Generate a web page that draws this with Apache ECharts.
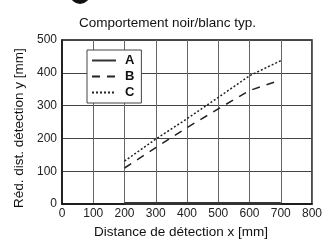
<!DOCTYPE html>
<html>
<head>
<meta charset="utf-8">
<script src="https://cdn.jsdelivr.net/npm/echarts@6/dist/echarts.min.js"></script>
<style>
html,body{margin:0;padding:0;background:#fff;}
#chart{width:335px;height:244px;}
</style>
</head>
<body>
<div id="chart"></div>
<script>
var distX = [200, 300, 400, 500, 600, 700];
var serieA = [2, 2, 2, 2, 2, 2];
var serieB = [110, 172, 233, 290, 346, 378];
var serieC = [131, 198, 260, 325, 391, 437];

function pts(vals) {
  return distX.map(function (x, i) { return [x, vals[i]]; });
}

var myChart = echarts.init(document.getElementById('chart'), null, { renderer: 'canvas' });
var font = 'Liberation Sans, Arial, sans-serif';
var option = {
  animation: false,
  title: {
    text: 'Comportement noir/blanc typ.',
    left: 'center',
    top: 11,
    textStyle: { fontFamily: font, fontSize: 13.5, fontWeight: 'normal', color: '#111' }
  },
  legend: {
    orient: 'vertical',
    left: 87,
    top: 50,
    padding: [4, 7, 4, 4],
    itemGap: 3,
    itemWidth: 24,
    itemHeight: 13,
    itemStyle: { opacity: 0 },
    backgroundColor: '#fff',
    borderColor: '#444',
    borderWidth: 1,
    borderRadius: 0,
    textStyle: { fontFamily: font, fontSize: 13, fontWeight: 'bold', color: '#111', padding: [0, 0, 0, 4] },
    data: ['A', 'B', 'C']
  },
  grid: { left: 62, right: 23, top: 40, bottom: 34, show: true, borderColor: '#111', borderWidth: 1.5 },
  xAxis: {
    type: 'value', min: 0, max: 800, interval: 100,
    name: 'Distance de détection x [mm]',
    nameLocation: 'middle', nameGap: 19,
    nameTextStyle: { fontFamily: font, fontSize: 13.5, color: '#111', padding: [0, 12, 0, 0] },
    axisLine: { lineStyle: { color: '#111', width: 1.5 } },
    axisTick: { show: false },
    axisLabel: { fontFamily: font, fontSize: 12, color: '#222', margin: 4 },
    splitLine: { lineStyle: { color: '#666', width: 1 } }
  },
  yAxis: {
    type: 'value', min: 0, max: 500, interval: 100,
    name: 'Réd. dist. détection y [mm]',
    nameLocation: 'middle', nameGap: 35,
    nameTextStyle: { fontFamily: font, fontSize: 13.5, color: '#111', padding: [0, 12, 0, 0] },
    axisLine: { show: true, lineStyle: { color: '#111', width: 1.5 } },
    axisTick: { show: false },
    axisLabel: { fontFamily: font, fontSize: 12, color: '#222', margin: 5 },
    splitLine: { lineStyle: { color: '#444', width: 1 } }
  },
  series: [
    {
      name: 'A', type: 'line', symbol: 'none', data: pts(serieA), z: 5,
      lineStyle: { color: '#333', width: 3, type: 'solid' }, itemStyle: { color: '#333' }
    },
    {
      name: 'B', type: 'line', symbol: 'none', data: pts(serieB),
      lineStyle: { color: '#222', width: 1.5, type: [8, 7] }, itemStyle: { color: '#222' }
    },
    {
      name: 'C', type: 'line', symbol: 'none', data: pts(serieC),
      lineStyle: { color: '#222', width: 1.5, type: [2, 2] }, itemStyle: { color: '#222' }
    }
  ]
};
myChart.setOption(option);
myChart.setOption({
  graphic: [{
    type: 'circle',
    shape: { cx: 80, cy: -6, r: 10 },
    style: { fill: '#111' }
  }]
});
window.addEventListener('resize', myChart.resize);
</script>
</body>
</html>
